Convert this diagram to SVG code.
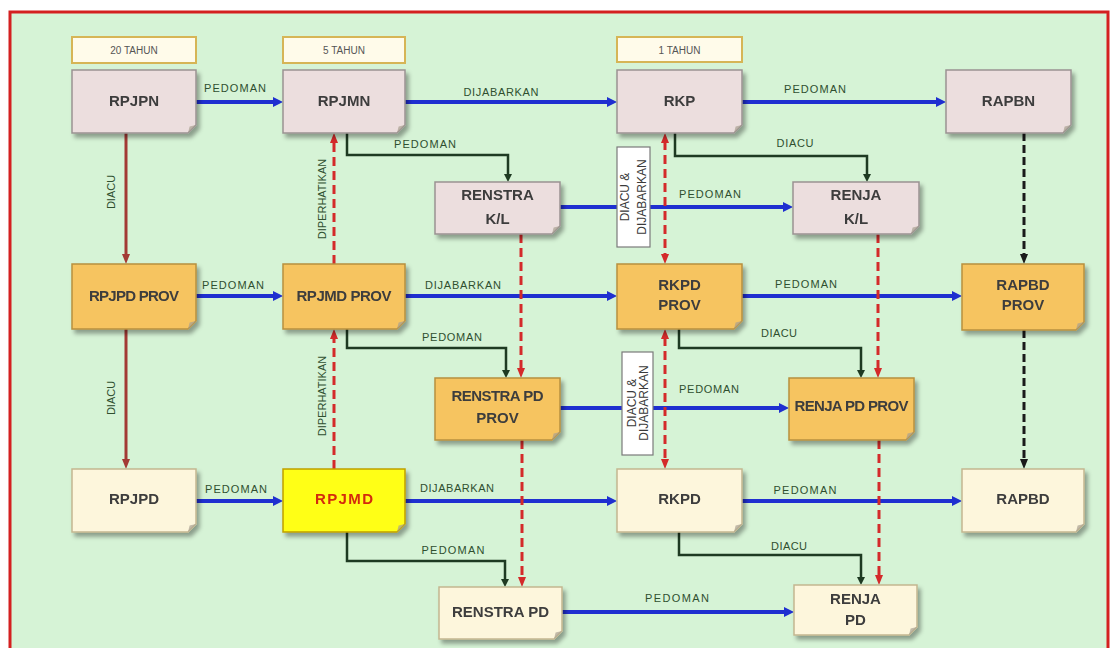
<svg xmlns="http://www.w3.org/2000/svg" width="1116" height="648" viewBox="0 0 1116 648">
<style>
.nt{font-family:"Liberation Sans",Arial,sans-serif;font-size:15px;font-weight:bold;fill:#3d3d3d;text-anchor:middle}
.lbl{font-family:"Liberation Sans",Arial,sans-serif;font-size:11px;fill:#2f4f2f;text-anchor:middle}
.per{font-family:"Liberation Sans",Arial,sans-serif;font-size:10px;fill:#555;text-anchor:middle}
.pink{fill:#ecdede;stroke:#9a9292;stroke-width:1.5}
.orange{fill:#f6c460;stroke:#b8903e;stroke-width:1.5}
.cream{fill:#fdf6dc;stroke:#c4b690;stroke-width:1.5}
.yellow{fill:#ffff14;stroke:#c0a000;stroke-width:1.5}
.fold{fill:#a8a090;opacity:0.7}
.pbox{fill:#fffbea;stroke:#d6b556;stroke-width:2}
.blue{fill:none;stroke:#1f2fd0;stroke-width:4}
.dred{fill:none;stroke:#a33a35;stroke-width:3}
.rdash{fill:none;stroke:#d42a2a;stroke-width:3;stroke-dasharray:9 5}
.bdash{fill:none;stroke:#1a1a1a;stroke-width:3;stroke-dasharray:8 4}
.green{fill:none;stroke:#1e3a22;stroke-width:2.5}
.vbox{fill:#ffffff;stroke:#7a7a7a;stroke-width:1.2}
.vt{font-family:"Liberation Sans",Arial,sans-serif;font-size:12px;fill:#3a3a3a;text-anchor:middle}
</style>
<defs>
<filter id="sh" x="-10%" y="-10%" width="125%" height="135%">
<feDropShadow dx="3" dy="4" stdDeviation="2" flood-color="#000" flood-opacity="0.35"/>
</filter>
<marker id="aBlue" viewBox="0 0 10 10" markerWidth="10" markerHeight="10" refX="2" refY="5" orient="auto" markerUnits="userSpaceOnUse"><path d="M0,0L10,5L0,10Z" fill="#1f2fd0"/></marker>
<marker id="aDred" viewBox="0 0 10 10" markerWidth="10" markerHeight="10" refX="2" refY="5" orient="auto" markerUnits="userSpaceOnUse"><path d="M0,1L10,5L0,9Z" fill="#a33a35"/></marker>
<marker id="aRed" viewBox="0 0 10 10" markerWidth="10" markerHeight="10" refX="2" refY="5" orient="auto-start-reverse" markerUnits="userSpaceOnUse"><path d="M0,1L10,5L0,9Z" fill="#d42a2a"/></marker>
<marker id="aBlack" viewBox="0 0 10 10" markerWidth="10" markerHeight="10" refX="2" refY="5" orient="auto" markerUnits="userSpaceOnUse"><path d="M0,1L10,5L0,9Z" fill="#1a1a1a"/></marker>
<marker id="aGreen" viewBox="0 0 10 10" markerWidth="10" markerHeight="10" refX="1" refY="5" orient="auto" markerUnits="userSpaceOnUse"><path d="M0,1L8,5L0,9Z" fill="#1e3a22"/></marker>
</defs>
<rect x="0" y="0" width="1116" height="648" fill="#ffffff"/>
<rect x="10" y="12" width="1098" height="660" fill="#d6f3d6" stroke="#d42020" stroke-width="3"/>

<g id="periods">
<g id="p-20"><rect class="pbox" x="72" y="37" width="124" height="26"/><text class="per" x="134" y="54">20 TAHUN</text></g>
<g id="p-5"><rect class="pbox" x="283" y="37" width="122" height="26"/><text class="per" x="344" y="54">5 TAHUN</text></g>
<g id="p-1"><rect class="pbox" x="617" y="37" width="125" height="25"/><text class="per" x="679.5" y="54">1 TAHUN</text></g>
</g>

<g id="connectors">
<path class="blue" d="M196 102H275" marker-end="url(#aBlue)"/>
<path class="blue" d="M405 102H609" marker-end="url(#aBlue)"/>
<path class="blue" d="M742 102H938" marker-end="url(#aBlue)"/>
<path class="blue" d="M560 207H785" marker-end="url(#aBlue)"/>
<path class="blue" d="M196 296H275" marker-end="url(#aBlue)"/>
<path class="blue" d="M405 296H609" marker-end="url(#aBlue)"/>
<path class="blue" d="M742 296H954" marker-end="url(#aBlue)"/>
<path class="blue" d="M560 408H781" marker-end="url(#aBlue)"/>
<path class="blue" d="M196 501H275" marker-end="url(#aBlue)"/>
<path class="blue" d="M405 501H609" marker-end="url(#aBlue)"/>
<path class="blue" d="M742 501H954" marker-end="url(#aBlue)"/>
<path class="blue" d="M562 612H786" marker-end="url(#aBlue)"/>

<path class="dred" d="M126 133V256" marker-end="url(#aDred)"/>
<path class="dred" d="M126 329V461" marker-end="url(#aDred)"/>

<path class="rdash" d="M334 264V141" marker-end="url(#aRed)"/>
<path class="rdash" d="M334 469V337" marker-end="url(#aRed)"/>
<path class="rdash" d="M665 141V256" marker-start="url(#aRed)" marker-end="url(#aRed)"/>
<path class="rdash" d="M665 337V461" marker-start="url(#aRed)" marker-end="url(#aRed)"/>
<path class="rdash" d="M521 234V370" marker-end="url(#aRed)"/>
<path class="rdash" d="M878 234V370" marker-end="url(#aRed)"/>
<path class="rdash" d="M522 440V579" marker-end="url(#aRed)"/>
<path class="rdash" d="M879 440V577" marker-end="url(#aRed)"/>

<path class="bdash" d="M1024 133V256" marker-end="url(#aBlack)"/>
<path class="bdash" d="M1024 330V461" marker-end="url(#aBlack)"/>

<path class="green" d="M347 133V155H508V175" marker-end="url(#aGreen)"/>
<path class="green" d="M675 133V156H867V175" marker-end="url(#aGreen)"/>
<path class="green" d="M347 329V348H506V371" marker-end="url(#aGreen)"/>
<path class="green" d="M679 329V348H861V371" marker-end="url(#aGreen)"/>
<path class="green" d="M347 532V561H505V580" marker-end="url(#aGreen)"/>
<path class="green" d="M679 532V555H861V578" marker-end="url(#aGreen)"/>

<g id="box-diacu-1"><rect class="vbox" x="617" y="147" width="33" height="100"/>
<text class="vt" transform="translate(633.5 197) rotate(-90)"><tspan x="0" y="-4.5">DIACU &amp;</tspan><tspan x="0" y="12.5">DIJABARKAN</tspan></text></g>
<g id="box-diacu-2"><rect class="vbox" x="622" y="352" width="31" height="103"/>
<text class="vt" transform="translate(637.5 403) rotate(-90)"><tspan x="0" y="-1.5">DIACU &amp;</tspan><tspan x="0" y="10.5">DIJABARKAN</tspan></text></g>

<g id="labels">
<text class="lbl" x="235" y="92" textLength="62">PEDOMAN</text>
<text class="lbl" x="501" y="96" textLength="75">DIJABARKAN</text>
<text class="lbl" x="815" y="93" textLength="62">PEDOMAN</text>
<text class="lbl" x="425" y="148" textLength="62">PEDOMAN</text>
<text class="lbl" x="795" y="147" textLength="37">DIACU</text>
<text class="lbl" x="710" y="198" textLength="62">PEDOMAN</text>
<text class="lbl" x="233" y="289" textLength="62">PEDOMAN</text>
<text class="lbl" x="463" y="289" textLength="76">DIJABARKAN</text>
<text class="lbl" x="806" y="288" textLength="62">PEDOMAN</text>
<text class="lbl" x="452" y="341" textLength="60">PEDOMAN</text>
<text class="lbl" x="779" y="337" textLength="36">DIACU</text>
<text class="lbl" x="709" y="393" textLength="60">PEDOMAN</text>
<text class="lbl" x="236" y="493" textLength="62">PEDOMAN</text>
<text class="lbl" x="457" y="492" textLength="74">DIJABARKAN</text>
<text class="lbl" x="805" y="494" textLength="63">PEDOMAN</text>
<text class="lbl" x="453" y="554" textLength="63">PEDOMAN</text>
<text class="lbl" x="789" y="550" textLength="36">DIACU</text>
<text class="lbl" x="677" y="602" textLength="64">PEDOMAN</text>
<text class="lbl" transform="translate(115 192) rotate(-90)" x="0" y="0">DIACU</text>
<text class="lbl" transform="translate(115 398) rotate(-90)" x="0" y="0">DIACU</text>
<text class="lbl" transform="translate(326 199) rotate(-90)" x="0" y="0">DIPERHATIKAN</text>
<text class="lbl" transform="translate(326 396) rotate(-90)" x="0" y="0">DIPERHATIKAN</text>
</g>
</g>

<g id="n-rpjpn" filter="url(#sh)"><path class="pink" d="M72 70H196V125L188 133H72Z"/><path class="fold" d="M196 125L188 133L189.6 126.6Z"/><text class="nt" x="134" y="106">RPJPN</text></g>
<g id="n-rpjmn" filter="url(#sh)"><path class="pink" d="M283 70H405V125L397 133H283Z"/><path class="fold" d="M405 125L397 133L398.6 126.6Z"/><text class="nt" x="344" y="106">RPJMN</text></g>
<g id="n-rkp" filter="url(#sh)"><path class="pink" d="M617 70H742V125L734 133H617Z"/><path class="fold" d="M742 125L734 133L735.6 126.6Z"/><text class="nt" x="679.5" y="106">RKP</text></g>
<g id="n-rapbn" filter="url(#sh)"><path class="pink" d="M946 70H1071V125L1063 133H946Z"/><path class="fold" d="M1071 125L1063 133L1064.6 126.6Z"/><text class="nt" x="1008.5" y="106">RAPBN</text></g>
<g id="n-renstra-kl" filter="url(#sh)"><path class="pink" d="M435 182H560V226L552 234H435Z"/><path class="fold" d="M560 226L552 234L553.6 227.6Z"/><text class="nt" x="497.5" y="200">RENSTRA</text><text class="nt" x="497.5" y="224">K/L</text></g>
<g id="n-renja-kl" filter="url(#sh)"><path class="pink" d="M793 182H919V226L911 234H793Z"/><path class="fold" d="M919 226L911 234L912.6 227.6Z"/><text class="nt" x="856" y="200">RENJA</text><text class="nt" x="856" y="224">K/L</text></g>
<g id="n-rpjpd-prov" filter="url(#sh)"><path class="orange" d="M72 264H196V321L188 329H72Z"/><path class="fold" d="M196 321L188 329L189.6 322.6Z"/><text class="nt" x="134" y="301" textLength="90">RPJPD PROV</text></g>
<g id="n-rpjmd-prov" filter="url(#sh)"><path class="orange" d="M283 264H405V321L397 329H283Z"/><path class="fold" d="M405 321L397 329L398.6 322.6Z"/><text class="nt" x="344" y="301" textLength="95">RPJMD PROV</text></g>
<g id="n-rkpd-prov" filter="url(#sh)"><path class="orange" d="M617 264H742V321L734 329H617Z"/><path class="fold" d="M742 321L734 329L735.6 322.6Z"/><text class="nt" x="679.5" y="290">RKPD</text><text class="nt" x="679.5" y="310">PROV</text></g>
<g id="n-rapbd-prov" filter="url(#sh)"><path class="orange" d="M962 264H1084V322L1076 330H962Z"/><path class="fold" d="M1084 322L1076 330L1077.6 323.6Z"/><text class="nt" x="1023" y="290">RAPBD</text><text class="nt" x="1023" y="310">PROV</text></g>
<g id="n-renstra-pd-prov" filter="url(#sh)"><path class="orange" d="M435 378H560V432L552 440H435Z"/><path class="fold" d="M560 432L552 440L553.6 433.6Z"/><text class="nt" x="497.5" y="401" textLength="92">RENSTRA PD</text><text class="nt" x="497.5" y="423">PROV</text></g>
<g id="n-renja-pd-prov" filter="url(#sh)"><path class="orange" d="M789 378H914V432L906 440H789Z"/><path class="fold" d="M914 432L906 440L907.6 433.6Z"/><text class="nt" x="851.5" y="411" textLength="114">RENJA PD PROV</text></g>
<g id="n-rpjpd" filter="url(#sh)"><path class="cream" d="M72 469H196V524L188 532H72Z"/><path class="fold" d="M196 524L188 532L189.6 525.6Z"/><text class="nt" x="134" y="504">RPJPD</text></g>
<g id="n-rpjmd" filter="url(#sh)"><path class="yellow" d="M283 469H405V524L397 532H283Z"/><path class="fold" d="M405 524L397 532L398.6 525.6Z"/><text class="nt" x="344" y="504" style="fill:#d42a10" textLength="58">RPJMD</text></g>
<g id="n-rkpd" filter="url(#sh)"><path class="cream" d="M617 469H742V524L734 532H617Z"/><path class="fold" d="M742 524L734 532L735.6 525.6Z"/><text class="nt" x="679.5" y="504">RKPD</text></g>
<g id="n-rapbd" filter="url(#sh)"><path class="cream" d="M962 469H1084V524L1076 532H962Z"/><path class="fold" d="M1084 524L1076 532L1077.6 525.6Z"/><text class="nt" x="1023" y="504">RAPBD</text></g>
<g id="n-renstra-pd" filter="url(#sh)"><path class="cream" d="M439 587H562V631L554 639H439Z"/><path class="fold" d="M562 631L554 639L555.6 632.6Z"/><text class="nt" x="500.5" y="617">RENSTRA PD</text></g>
<g id="n-renja-pd" filter="url(#sh)"><path class="cream" d="M794 585H917V627L909 635H794Z"/><path class="fold" d="M917 627L909 635L910.6 628.6Z"/><text class="nt" x="855.5" y="604">RENJA</text><text class="nt" x="855.5" y="625">PD</text></g>
</svg>
